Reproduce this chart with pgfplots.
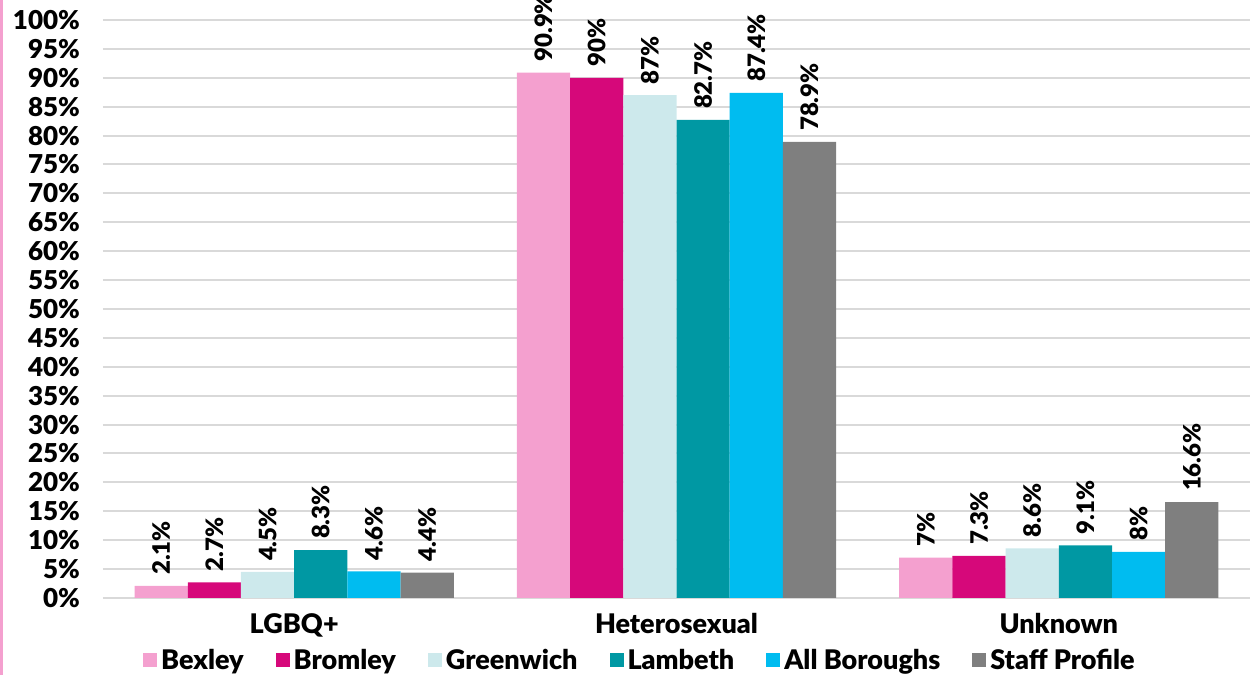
\documentclass[border=0pt]{standalone}
\usepackage{pgfplots}
\pgfplotsset{compat=1.18}
\usepackage{fontspec}
\setmainfont{Lato}[BoldFont={Lato Black}]
\definecolor{cBex}{HTML}{F4A0CF}
\definecolor{cBro}{HTML}{D6087A}
\definecolor{cGre}{HTML}{CDE9EC}
\definecolor{cLam}{HTML}{0098A3}
\definecolor{cAll}{HTML}{00BCF0}
\definecolor{cSta}{HTML}{7F7F7F}
\definecolor{cGrid}{HTML}{D9D9D9}
\begin{document}
\begin{tikzpicture}
\path[use as bounding box] (-51.5pt,-38.5pt) rectangle (575.5pt,299pt);
\clip (-51.5pt,-38.5pt) rectangle (575.5pt,299pt);
\fill[cBex] (-51.5pt,-38.5pt) rectangle (-50.2pt,299pt);
\begin{axis}[
  at={(0pt,0pt)}, anchor=south west,
  scale only axis,
  width=573.5pt, height=289pt,
  xmin=-0.5, xmax=2.5,
  ymin=0, ymax=100,
  ybar=0pt,
  bar width=26.6pt,
  axis line style={draw=none},
  xtick={0,1,2},
  xticklabels={LGBQ+,Heterosexual,Unknown},
  xtick style={draw=none},
  ytick style={draw=none},
  xticklabel style={font=\bfseries\fontsize{13.5}{14}\selectfont, yshift=0pt},
  ytick={0,5,...,100},
  yticklabel={\pgfmathprintnumber[assume math mode=true]{\tick}\%},
  yticklabel style={font=\bfseries\fontsize{13}{13}\selectfont, xshift=-8pt},
  ymajorgrids,
  grid style={cGrid, line width=1pt},
  nodes near coords={\pgfmathprintnumber[assume math mode=true]{\pgfplotspointmeta}\%},
  every node near coord/.append style={font=\bfseries\fontsize{12}{13}\selectfont, rotate=90, anchor=west, xshift=2pt},
  clip=false,
  legend columns=6,
  legend style={at={(0.469,-0.108)}, anchor=center, draw=none, fill=none,
    font=\bfseries\fontsize{13.5}{14}\selectfont,
    /tikz/every even column/.append style={column sep=14pt}},
  legend image code/.code={\fill[#1] (0pt,-3.5pt) rectangle (7pt,3.5pt);},
]
\addplot[fill=cBex, draw=none] coordinates {(0,2.1) (1,90.9) (2,7)};
\addplot[fill=cBro, draw=none] coordinates {(0,2.7) (1,90) (2,7.3)};
\addplot[fill=cGre, draw=none] coordinates {(0,4.5) (1,87) (2,8.6)};
\addplot[fill=cLam, draw=none] coordinates {(0,8.3) (1,82.7) (2,9.1)};
\addplot[fill=cAll, draw=none] coordinates {(0,4.6) (1,87.4) (2,8)};
\addplot[fill=cSta, draw=none] coordinates {(0,4.4) (1,78.9) (2,16.6)};
\legend{Bexley,Bromley,Greenwich,Lambeth,All Boroughs,Staff Profile}
\end{axis}
\end{tikzpicture}
\end{document}
